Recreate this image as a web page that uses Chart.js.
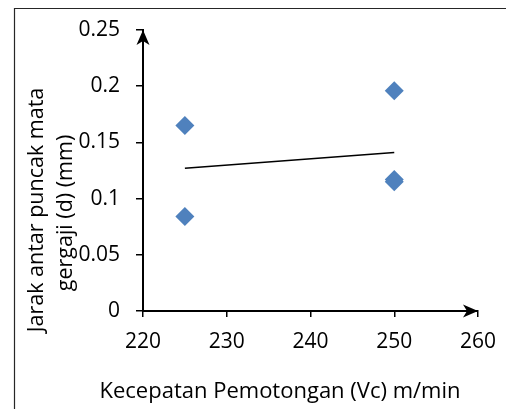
<!DOCTYPE html>
<html>
<head>
<meta charset="utf-8">
<script src="https://cdn.jsdelivr.net/npm/chart.js@4/dist/chart.umd.min.js"></script>
<style>
  html, body { margin: 0; padding: 0; background: #fff; }
  canvas { display: block; }
</style>
</head>
<body>
<canvas id="chart" width="506" height="409"></canvas>
<script>
// data
const xValues = [225, 225, 250, 250, 250];
const yValues = [0.165, 0.084, 0.196, 0.117, 0.115];
const trendX = [225, 250];
const trendY = [0.127, 0.141];
const xTicks = [220, 230, 240, 250, 260];
const yTicks = [0, 0.05, 0.1, 0.15, 0.2, 0.25];

const xTitle = 'Kecepatan Pemotongan (Vc) m/min';
const yTitle = ['Jarak antar puncak mata', 'gergaji (d) (mm)'];

Chart.defaults.font.family = "'Open Sans', sans-serif";
Chart.defaults.font.size = 21;
Chart.defaults.color = '#000';

// draws the frame, the arrowheads and the axis titles
const decor = {
  id: 'decor',
  beforeDraw(chart) {
    const ctx = chart.ctx;
    ctx.save();
    ctx.strokeStyle = '#262626';
    ctx.lineWidth = 1.2;
    ctx.beginPath();
    ctx.moveTo(14.5, 409);
    ctx.lineTo(14.5, 8.5);
    ctx.lineTo(506, 8.5);
    ctx.stroke();
    ctx.restore();
  },
  afterDraw(chart) {
    const ctx = chart.ctx;
    const xs = chart.scales.x, ys = chart.scales.y;
    const x0 = xs.getPixelForValue(xTicks[0]);
    const x1 = xs.getPixelForValue(xTicks[xTicks.length - 1]);
    const y0 = ys.getPixelForValue(yTicks[0]);
    const y1 = ys.getPixelForValue(yTicks[yTicks.length - 1]);
    ctx.save();
    ctx.fillStyle = '#000';
    // x arrow
    ctx.beginPath();
    ctx.moveTo(x1, y0);
    ctx.lineTo(x1 - 15, y0 - 6.5);
    ctx.lineTo(x1 - 11, y0);
    ctx.lineTo(x1 - 15, y0 + 6.5);
    ctx.closePath();
    ctx.fill();
    // y arrow
    ctx.beginPath();
    ctx.moveTo(x0, y1);
    ctx.lineTo(x0 - 6.5, y1 + 15);
    ctx.lineTo(x0, y1 + 11);
    ctx.lineTo(x0 + 6.5, y1 + 15);
    ctx.closePath();
    ctx.fill();

    ctx.textAlign = 'center';
    ctx.textBaseline = 'alphabetic';
    ctx.font = "22px 'Open Sans', sans-serif";
    ctx.fillText(xTitle, 280, 398);

    ctx.font = "21.5px 'Open Sans', sans-serif";
    ctx.translate(43, 210);
    ctx.rotate(-Math.PI / 2);
    ctx.fillText(yTitle[0], 0, 0);
    ctx.fillText(yTitle[1], -3, 29);
    ctx.restore();
  }
};

new Chart(document.getElementById('chart'), {
  type: 'scatter',
  data: {
    datasets: [{
      label: 'data',
      data: xValues.map((x, i) => ({ x: x, y: yValues[i] })),
      pointStyle: 'rectRot',
      pointRadius: 9.5,
      pointHoverRadius: 9.5,
      backgroundColor: '#4F81BD',
      borderColor: '#4F81BD',
      borderWidth: 0,
      showLine: false
    }, {
      label: 'trend',
      data: trendX.map((x, i) => ({ x: x, y: trendY[i] })),
      showLine: true,
      pointRadius: 0,
      borderColor: '#000',
      borderWidth: 1.5
    }]
  },
  options: {
    responsive: false,
    animation: false,
    layout: { padding: { top: 30, right: 28, left: 0, bottom: 0 } },
    plugins: { legend: { display: false }, tooltip: { enabled: false } },
    scales: {
      x: {
        type: 'linear',
        min: xTicks[0],
        max: xTicks[xTicks.length - 1],
        afterBuildTicks: s => { s.ticks = xTicks.map(v => ({ value: v })); },
        afterFit: s => { s.height = 98; s.paddingRight = 0; s.paddingLeft = 0; },
        ticks: { padding: 12, callback: v => String(v) },
        grid: { drawOnChartArea: false, tickLength: 6, tickColor: '#000', lineWidth: 1.5 },
        border: { color: '#000', width: 2 }
      },
      y: {
        min: yTicks[0],
        max: yTicks[yTicks.length - 1],
        afterBuildTicks: s => { s.ticks = yTicks.map(v => ({ value: v })); },
        afterFit: s => { s.width = 143; s.paddingTop = 0; s.paddingBottom = 0; },
        ticks: { padding: 16, callback: v => String(v) },
        grid: { drawOnChartArea: false, tickLength: 7, tickColor: '#000', lineWidth: 1.5 },
        border: { color: '#000', width: 2 }
      }
    }
  },
  plugins: [decor]
});
</script>
</body>
</html>
